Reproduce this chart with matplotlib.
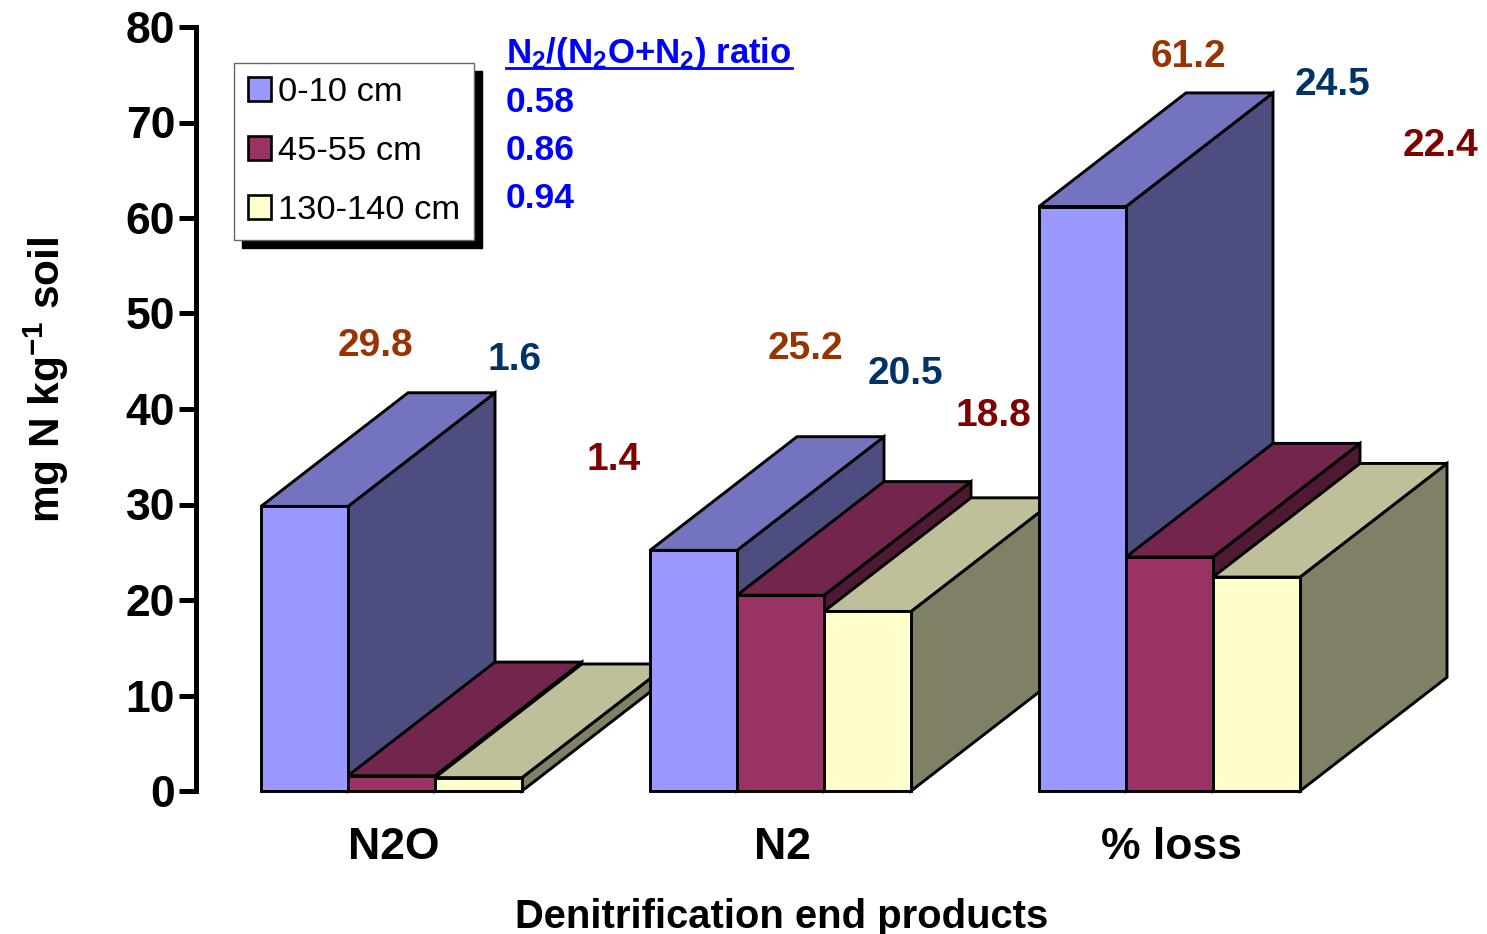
import matplotlib
matplotlib.use('Agg')
import matplotlib.pyplot as plt
from matplotlib.patches import Polygon, Patch

plt.rcParams['font.family'] = ['Liberation Sans', 'DejaVu Sans']
plt.rcParams['mathtext.fontset'] = 'custom'
plt.rcParams['mathtext.rm'] = 'Liberation Sans:bold'
plt.rcParams['mathtext.bf'] = 'Liberation Sans:bold'

W, H = 1487, 934

categories = ['N2O', 'N2', '% loss']
depths = ['0-10 cm', '45-55 cm', '130-140 cm']
values = {
    '0-10 cm': [29.8, 25.2, 61.2],
    '45-55 cm': [1.6, 20.5, 24.5],
    '130-140 cm': [1.4, 18.8, 22.4],
}
ratio_values = ['0.58', '0.86', '0.94']
yticks = [0, 10, 20, 30, 40, 50, 60, 70, 80]

# front, top, side
colors = {
    '0-10 cm': ('#9999FF', '#7373BF', '#4D4D80'),
    '45-55 cm': ('#993366', '#73264D', '#4D1933'),
    '130-140 cm': ('#FFFFCC', '#BFBF99', '#808066'),
}
label_colors = ['#993300', '#003366', '#800000']

# pixel positions of the value labels, same order as values
label_pos = {
    '0-10 cm': [(375, 346), (805, 349), (1188, 57)],
    '45-55 cm': [(514, 360), (905, 374), (1332, 85)],
    '130-140 cm': [(614, 460), (993, 416), (1441, 146)],
}

fig = plt.figure(figsize=(W / 100, H / 100), dpi=100)
ax_left, ax_right, ax_top, ax_bottom = 196, W, 27, 791
ax = fig.add_axes([ax_left / W, 1 - ax_bottom / H, (ax_right - ax_left) / W, (ax_bottom - ax_top) / H])

bar_w = 87  # x data unit = pixels from the axis
group_left = [65, 454, 843]
dx = 147
dy = 11.9
lw = 2.1


def bar3d(x, h, cols, z):
    front, top, side = cols
    kw = dict(edgecolor='black', linewidth=lw, joinstyle='miter', clip_on=False, zorder=z)
    ax.add_patch(Polygon([(x + bar_w, 0), (x + bar_w + dx, dy), (x + bar_w + dx, h + dy), (x + bar_w, h)], facecolor=side, **kw))
    ax.add_patch(Polygon([(x, h), (x + dx, h + dy), (x + bar_w + dx, h + dy), (x + bar_w, h)], facecolor=top, **kw))
    ax.add_patch(Polygon([(x, 0), (x + bar_w, 0), (x + bar_w, h), (x, h)], facecolor=front, **kw))


z = 3
for g, left in enumerate(group_left):
    for i, d in enumerate(depths):
        bar3d(left + i * bar_w, values[d][g], colors[d], z)
        z += 1

ax.set_xlim(0, ax_right - ax_left)
ax.set_ylim(0, 80)
ax.set_yticks(yticks)
ax.set_xticks([g + 1.5 * bar_w + 2 for g in group_left])
ax.set_xticklabels(categories, fontsize=32, fontweight='bold')
ax.tick_params(axis='x', length=0, pad=26)
ax.tick_params(axis='y', length=12, width=3.6, pad=3, labelsize=32)
for t in ax.get_yticklabels():
    t.set_fontweight('bold')
for s in ['top', 'right', 'bottom']:
    ax.spines[s].set_visible(False)
ax.spines['left'].set_linewidth(3.6)
ax.patch.set_visible(False)


def px(x, y):
    return x / W, 1 - y / H


for d, c in zip(depths, label_colors):
    for (x, y), v in zip(label_pos[d], values[d]):
        fig.text(*px(x, y), f'{v:.1f}', color=c, fontsize=28, fontweight='bold', ha='center', va='center', zorder=50)

# ratio block
fig.text(*px(506, 54), r'$\mathbf{N_2/(N_2O{+}N_2)}$ ratio', color='#0000FF', fontsize=25, fontweight='bold', ha='left', va='center')
fig.add_artist(plt.Line2D([506 / W, 792 / W], [1 - 68 / H, 1 - 68 / H], color='#0000FF', linewidth=2))
for y, r in zip([103, 151, 198], ratio_values):
    fig.text(*px(506, y), r, color='#0000FF', fontsize=25.5, fontweight='bold', ha='left', va='center')

fig.text(*px(782, 917), 'Denitrification end products', fontsize=28.8, fontweight='bold', ha='center', va='center')
fig.text(*px(46, 380), r'mg N kg$^{\mathbf{-1}}$ soil', fontsize=30.5, fontweight='bold', rotation=90, ha='center', va='center')

handles = [Patch(facecolor=colors[d][0], edgecolor='black', linewidth=1.9) for d in depths]
leg = ax.legend(handles, depths, loc='upper left', bbox_to_anchor=(234 / W, 1 - 63 / H), bbox_transform=fig.transFigure,
                fontsize=24.8, frameon=True, fancybox=False, framealpha=1, edgecolor='#666666', borderaxespad=0,
                handlelength=0.68, handleheight=0.68, handletextpad=0.2, labelspacing=0.82, borderpad=0.4,
                shadow={'ox': 5.8, 'oy': -5.8, 'color': 'black', 'alpha': 1})
leg.get_frame().set_linewidth(1.0)
leg.set_zorder(60)

fig.savefig('out.png', dpi=100)
